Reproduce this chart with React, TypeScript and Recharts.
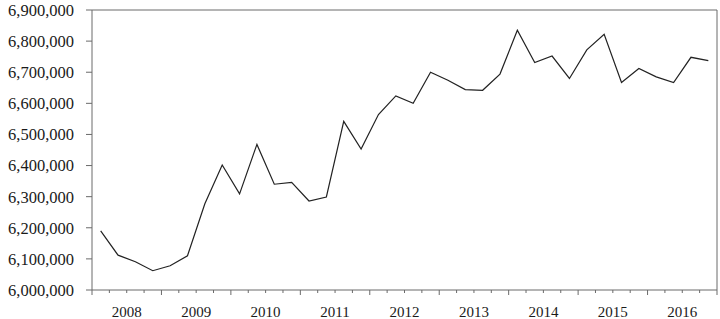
import React from "react";
import { LineChart, Line, XAxis, YAxis, ReferenceLine } from "recharts";

const quarters = [
  "2008Q1", "2008Q2", "2008Q3", "2008Q4",
  "2009Q1", "2009Q2", "2009Q3", "2009Q4",
  "2010Q1", "2010Q2", "2010Q3", "2010Q4",
  "2011Q1", "2011Q2", "2011Q3", "2011Q4",
  "2012Q1", "2012Q2", "2012Q3", "2012Q4",
  "2013Q1", "2013Q2", "2013Q3", "2013Q4",
  "2014Q1", "2014Q2", "2014Q3", "2014Q4",
  "2015Q1", "2015Q2", "2015Q3", "2015Q4",
  "2016Q1", "2016Q2", "2016Q3", "2016Q4",
];

const values = [
  6190000, 6112000, 6091000, 6062000,
  6078000, 6110000, 6277000, 6402000,
  6309000, 6468000, 6340000, 6346000,
  6286000, 6299000, 6542000, 6453000,
  6564000, 6624000, 6600000, 6700000,
  6674000, 6644000, 6642000, 6694000,
  6835000, 6731000, 6752000, 6680000,
  6772000, 6822000, 6667000, 6712000,
  6685000, 6667000, 6748000, 6737000,
];

const yearLabels = ["2008", "2009", "2010", "2011", "2012", "2013", "2014", "2015", "2016"];

const yTicks = [6000000, 6100000, 6200000, 6300000, 6400000, 6500000, 6600000, 6700000, 6800000, 6900000];

const data = quarters.map((q, i) => ({ q, x: i + 0.5, v: values[i] }));
const xTicks = Array.from({ length: quarters.length + 1 }, (_, i) => i);

const FONT = "'Liberation Serif', 'Times New Roman', serif";
const FRAME = "#6a6a6a";

const XTick = (props: any) => {
  const { x, y, payload } = props;
  const v = payload.value as number;
  const major = v % 4 === 0;
  const label = v % 4 === 2 ? yearLabels[(v - 2) / 4] : null;
  return (
    <g>
      <line x1={x} x2={x} y1={y} y2={y + (major ? 5 : 3)} stroke={FRAME} strokeWidth={1} />
      {label && (
        <text x={x} y={y + 27} textAnchor="middle" fontFamily={FONT} fontSize={15} fill="#1a1a1a">
          {label}
        </text>
      )}
    </g>
  );
};

const fmt = (v: number) => v.toLocaleString("en-US");

export default function App() {
  return (
    <div style={{ position: "absolute", left: 0, top: 0, background: "#fff" }}>
      <LineChart width={720} height={319} data={data} margin={{ top: 10, right: 3, bottom: 0, left: 0 }}>
        <XAxis
          dataKey="x"
          type="number"
          domain={[0, 36]}
          ticks={xTicks}
          interval={0}
          tickLine={false}
          tickSize={0}
          tickMargin={0}
          tick={<XTick />}
          height={29}
          axisLine={{ stroke: FRAME }}
        />
        <YAxis
          type="number"
          domain={[6000000, 6900000]}
          ticks={yTicks}
          interval={0}
          width={92}
          tickSize={6}
          tickMargin={12}
          tickFormatter={fmt}
          tick={{ fontFamily: FONT, fontSize: 16.5, fill: "#1a1a1a" }}
          tickLine={{ stroke: FRAME }}
          axisLine={{ stroke: FRAME }}
        />
        <ReferenceLine y={6900000} stroke={FRAME} />
        <ReferenceLine x={36} stroke={FRAME} />
        <Line
          type="linear"
          dataKey="v"
          stroke="#222"
          strokeWidth={1.2}
          dot={false}
          isAnimationActive={false}
        />
      </LineChart>
    </div>
  );
}
